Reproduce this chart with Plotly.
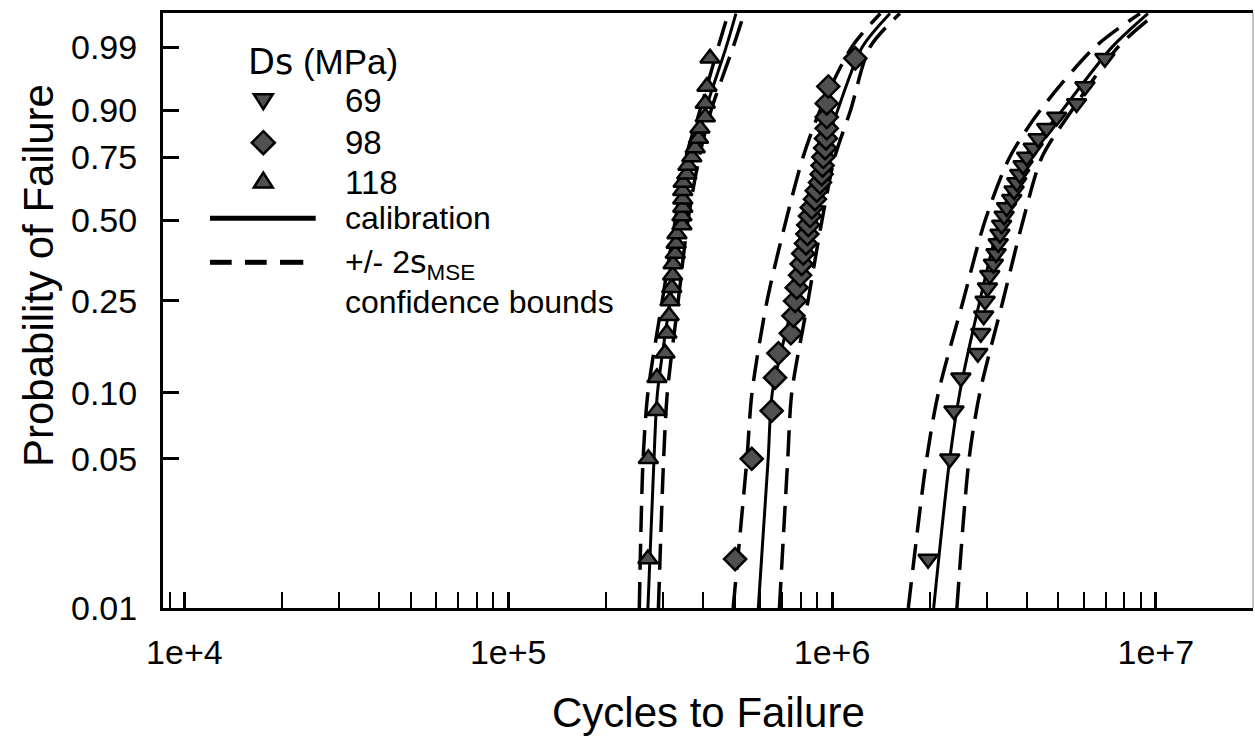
import numpy as np
import plotly.graph_objects as go

# ---------------- data ----------------
# plotting positions (probability of failure) of the 30 specimens per stress level
prob_points = [0.017, 0.050, 0.083, 0.117, 0.150, 0.183, 0.217, 0.250, 0.283, 0.317,
               0.350, 0.383, 0.417, 0.450, 0.483, 0.517, 0.550, 0.583, 0.617, 0.650,
               0.683, 0.717, 0.750, 0.783, 0.817, 0.850, 0.883, 0.917, 0.950, 0.983]

cycles_69 = [1.98e6, 2.31e6, 2.38e6, 2.50e6, 2.82e6, 2.88e6, 2.94e6, 2.97e6, 3.02e6, 3.07e6,
             3.15e6, 3.21e6, 3.26e6, 3.30e6, 3.34e6, 3.40e6, 3.46e6, 3.59e6, 3.65e6, 3.72e6,
             3.80e6, 3.89e6, 3.99e6, 4.18e6, 4.33e6, 4.60e6, 4.94e6, 5.69e6, 6.04e6, 6.96e6]

cycles_98 = [5.02e5, 5.65e5, 6.51e5, 6.67e5, 6.83e5, 7.46e5, 7.60e5, 7.69e5, 7.78e5, 7.97e5,
             8.06e5, 8.15e5, 8.31e5, 8.39e5, 8.45e5, 8.55e5, 8.66e5, 8.86e5, 8.97e5, 9.18e5,
             9.29e5, 9.35e5, 9.40e5, 9.52e5, 9.58e5, 9.63e5, 9.63e5, 9.63e5, 9.74e5, 1.18e6]

cycles_118 = [2.70e5, 2.71e5, 2.88e5, 2.88e5, 3.05e5, 3.09e5, 3.14e5, 3.16e5, 3.20e5, 3.22e5,
              3.23e5, 3.28e5, 3.30e5, 3.32e5, 3.44e5, 3.44e5, 3.46e5, 3.46e5, 3.46e5, 3.47e5,
              3.56e5, 3.59e5, 3.69e5, 3.78e5, 3.87e5, 3.91e5, 4.06e5, 4.06e5, 4.11e5, 4.20e5]

# calibration curves and +/- 2 s_MSE bounds, read at these probabilities
curve_prob = [0.01, 0.05, 0.10, 0.25, 0.50, 0.75, 0.90, 0.99, 0.9987]

calib_69 = [2.06e6, 2.31e6, 2.48e6, 2.86e6, 3.30e6, 3.94e6, 5.13e6, 7.32e6, 9.45e6]
lower_69 = [1.72e6, 1.96e6, 2.13e6, 2.54e6, 2.97e6, 3.54e6, 4.39e6, 6.48e6, 8.93e6]
upper_69 = [2.43e6, 2.65e6, 2.86e6, 3.37e6, 3.89e6, 4.45e6, 5.50e6, 7.64e6, 1.00e7]

calib_98 = [5.92e5, 6.35e5, 6.54e5, 7.58e5, 8.43e5, 9.31e5, 1.04e6, 1.24e6, 1.51e6]
lower_98 = [4.95e5, 5.46e5, 5.66e5, 6.30e5, 7.21e5, 8.14e5, 9.18e5, 1.15e6, 1.41e6]
upper_98 = [6.88e5, 7.30e5, 7.51e5, 8.43e5, 9.31e5, 1.02e6, 1.14e6, 1.31e6, 1.62e6]

calib_118 = [2.70e5, 2.82e5, 2.89e5, 3.16e5, 3.42e5, 3.70e5, 4.06e5, 4.71e5, 5.05e5]
lower_118 = [2.54e5, 2.61e5, 2.70e5, 2.99e5, 3.28e5, 3.54e5, 3.91e5, 4.45e5, 4.78e5]
upper_118 = [2.91e5, 3.02e5, 3.10e5, 3.35e5, 3.59e5, 3.89e5, 4.23e5, 4.95e5, 5.35e5]

stress_labels = ["69", "98", "118"]

y_tick_probs = [0.01, 0.05, 0.10, 0.25, 0.50, 0.75, 0.90, 0.99]
y_tick_text = ["0.01", "0.05", "0.10", "0.25", "0.50", "0.75", "0.90", "0.99"]
x_tick_vals = [1e4, 1e5, 1e6, 1e7]
x_tick_text = ["1e+4", "1e+5", "1e+6", "1e+7"]
y_top_prob = 0.99875


# ---------------- helpers ----------------
def weibull(p):
    p = np.asarray(p, dtype=float)
    return np.log(-np.log(1.0 - p))


FONT = "Liberation Sans, Arial, sans-serif"
THIN = "DejaVu Sans ExtraLight, DejaVu Sans, sans-serif"
FILL = "#505050"
DASH = "26px,12px"

fig = go.Figure()

curve_sets = [(calib_69, lower_69, upper_69),
              (calib_98, lower_98, upper_98),
              (calib_118, lower_118, upper_118)]
wc = weibull(curve_prob)
for calib, lower, upper in curve_sets:
    for xs in (lower, upper):
        fig.add_trace(go.Scatter(x=xs, y=wc, mode="lines",
                                 line=dict(color="black", width=3.5, dash=DASH,
                                           shape="spline", smoothing=0.8),
                                 hoverinfo="skip", showlegend=False))
    fig.add_trace(go.Scatter(x=calib, y=wc, mode="lines",
                             line=dict(color="black", width=3,
                                       shape="spline", smoothing=0.8),
                             hoverinfo="skip", showlegend=False))

wp = weibull(prob_points)
marker_specs = [(cycles_69, "triangle-down", 17),
                (cycles_98, "diamond", 17),
                (cycles_118, "triangle-up", 17)]
for (xs, sym, size), lab in zip(marker_specs, stress_labels):
    fig.add_trace(go.Scatter(x=xs, y=wp, mode="markers", name=lab,
                             marker=dict(symbol=sym, size=size, color=FILL,
                                         line=dict(color="black", width=2.5)),
                             showlegend=False))

# ---------------- layout ----------------
W, H = 1255, 738
L, R, T, B = 163, 1253, 13, 608


def px(xp, yp):
    return (xp - L) / (R - L), (B - yp) / (B - T)


minor_vals = [k * 10 ** e for e in range(3, 8) for k in range(2, 10)]

fig.update_layout(
    width=W, height=H,
    margin=dict(l=L, r=W - R, t=T, b=H - B, pad=0),
    paper_bgcolor="white", plot_bgcolor="white",
    font=dict(family=FONT, color="black", size=34),
    showlegend=False,
    xaxis=dict(type="log", range=[3.934, 7.30],
               tickmode="array", tickvals=x_tick_vals, ticktext=x_tick_text,
               ticks="inside", ticklen=16, tickwidth=2.5, tickcolor="black",
               minor=dict(tickmode="array", tickvals=minor_vals, ticks="inside",
                          ticklen=16, tickwidth=2.2, tickcolor="black", showgrid=False),
               showline=True, linewidth=3, linecolor="black", mirror=True,
               showgrid=False, zeroline=False,
               tickfont=dict(size=34, family=FONT), ticklabelstandoff=12),
    yaxis=dict(range=[float(weibull(0.01)), float(weibull(y_top_prob))],
               tickmode="array", tickvals=list(weibull(y_tick_probs)), ticktext=y_tick_text,
               ticks="inside", ticklen=16, tickwidth=2.5, tickcolor="black",
               showline=True, linewidth=3, linecolor="black", mirror=False,
               showgrid=False, zeroline=False,
               tickfont=dict(size=34, family=FONT), ticklabelstandoff=16),
)

# thin right border
fig.add_shape(type="line", xref="paper", yref="paper", x0=1, x1=1, y0=0, y1=1,
              line=dict(color="#888888", width=1))

# axis titles
ax, ay = px(708, 712)
fig.add_annotation(text="Cycles to Failure", xref="paper", yref="paper", x=ax, y=ay,
                   xanchor="center", yanchor="middle", showarrow=False,
                   font=dict(size=42, family=FONT))
ax, ay = px(38, 276)
fig.add_annotation(text="Probability of Failure", xref="paper", yref="paper", x=ax, y=ay,
                   xanchor="center", yanchor="middle", showarrow=False, textangle=-90,
                   font=dict(size=42, family=FONT))

# ---------------- legend (drawn) ----------------
LEG_FONT = 32
ax, ay = px(246, 62)
fig.add_annotation(text=f"<span style='font-family:{THIN}'>Ds</span> (MPa)",
                   xref="paper", yref="paper", x=ax, y=ay, xanchor="left", yanchor="middle",
                   showarrow=False, font=dict(size=35, family=FONT))


def path_from(points):
    s = ""
    for i, (xp, yp) in enumerate(points):
        a, b = px(xp, yp)
        s += ("M" if i == 0 else "L") + f"{a:.5f},{b:.5f} "
    return s + "Z"


cx = 263.3
glyphs = [
    [(cx - 9.5, 94.2), (cx + 9.5, 94.2), (cx, 109.2)],
    [(cx, 131.2), (cx + 11.5, 142.7), (cx, 154.2), (cx - 11.5, 142.7)],
    [(cx - 9.5, 187.5), (cx + 9.5, 187.5), (cx, 172.5)],
]
label_y = [100, 142.7, 182]
for g, lab, ly in zip(glyphs, stress_labels, label_y):
    fig.add_shape(type="path", xref="paper", yref="paper", path=path_from(g),
                  fillcolor=FILL, line=dict(color="black", width=2.5))
    ax, ay = px(342.7, ly)
    fig.add_annotation(text=lab, xref="paper", yref="paper", x=ax, y=ay,
                       xanchor="left", yanchor="middle", showarrow=False,
                       font=dict(size=LEG_FONT + 1, family=FONT))

# solid line sample
a0, b0 = px(210, 218.3)
a1, _ = px(315.7, 218.3)
fig.add_shape(type="line", xref="paper", yref="paper", x0=a0, x1=a1, y0=b0, y1=b0,
              line=dict(color="black", width=5))
ax, ay = px(343.3, 218)
fig.add_annotation(text="calibration", xref="paper", yref="paper", x=ax, y=ay,
                   xanchor="left", yanchor="middle", showarrow=False,
                   font=dict(size=LEG_FONT, family=FONT))
# dashed sample
for d0, d1 in [(210, 231.7), (245, 266.7), (280, 303.3)]:
    a0, b0 = px(d0, 262.3)
    a1, _ = px(d1, 262.3)
    fig.add_shape(type="line", xref="paper", yref="paper", x0=a0, x1=a1, y0=b0, y1=b0,
                  line=dict(color="black", width=5))
ax, ay = px(343.3, 264)
fig.add_annotation(text=f"+/- 2<span style='font-family:{THIN}'>s</span><sub>MSE</sub>",
                   xref="paper", yref="paper", x=ax, y=ay,
                   xanchor="left", yanchor="middle", showarrow=False,
                   font=dict(size=LEG_FONT, family=FONT))
ax, ay = px(343.3, 301.7)
fig.add_annotation(text="confidence bounds", xref="paper", yref="paper", x=ax, y=ay,
                   xanchor="left", yanchor="middle", showarrow=False,
                   font=dict(size=LEG_FONT, family=FONT))

fig.write_html(
    "out.html",
    config={"displayModeBar": False},
    post_script="document.body.style.margin='0px';"
                "document.documentElement.style.overflow='hidden';"
                "document.body.style.overflow='hidden';",
)
